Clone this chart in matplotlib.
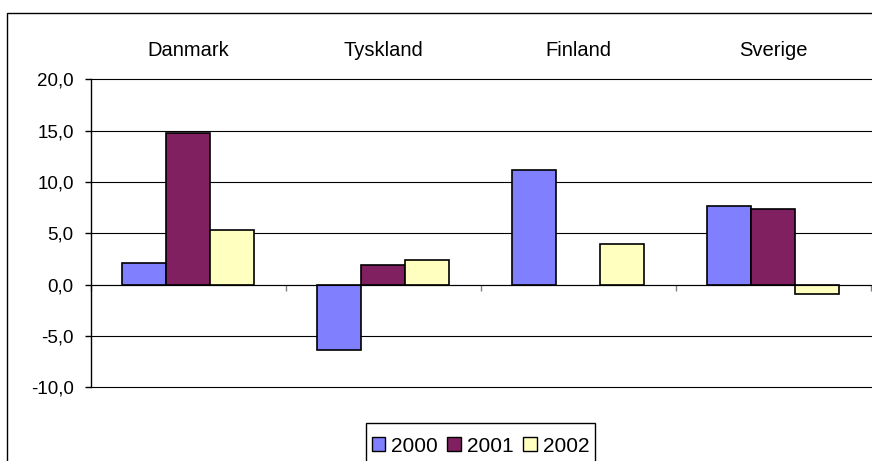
import numpy as np
import matplotlib
matplotlib.use("Agg")
import matplotlib.pyplot as plt
from matplotlib.patches import Rectangle

# data
countries = ["Danmark", "Tyskland", "Finland", "Sverige"]
years = ["2000", "2001", "2002"]
v2000 = [2.1, -6.4, 11.2, 7.7]
v2001 = [14.8, 1.9, np.nan, 7.4]
v2002 = [5.3, 2.4, 4.0, -0.9]
yticks = [-10, -5, 0, 5, 10, 15, 20]

colors = ["#8080FF", "#802060", "#FFFFC0"]

plt.rcParams['font.family'] = ['Liberation Sans', 'DejaVu Sans']

fig = plt.figure(figsize=(8.72, 4.61), dpi=100)
ax = fig.add_axes([91 / 872, 1 - 387.3 / 461, (870.7 - 91) / 872, 308 / 461])

x = np.arange(len(countries))
w = 0.2256
for i, (vals, col, lab) in enumerate(zip([v2000, v2001, v2002], colors, years)):
    ax.bar(x + (i - 1) * w, vals, w, color=col, edgecolor="black",
           linewidth=1.2, label=lab, zorder=3)

ax.set_xlim(-0.5, len(countries) - 0.5)
ax.set_ylim(-10, 20)
ax.set_yticks(yticks, [f"{v:.1f}".replace(".", ",") for v in yticks])
ax.yaxis.grid(True, color="black", linewidth=0.8)
for gl in ax.get_ygridlines():
    gl.set_clip_on(False)
ax.set_axisbelow(True)

# category axis crosses at zero
ax.spines['bottom'].set_position(('data', 0))
ax.spines['bottom'].set_zorder(4)
ax.spines['top'].set_visible(False)
ax.spines['right'].set_visible(False)
ax.spines['left'].set_linewidth(1.0)
ax.set_xticks(np.arange(len(countries) + 1) - 0.5, [""] * (len(countries) + 1))
ax.tick_params(axis='x', direction='out', length=4.5, color='gray', width=1)
ax.tick_params(axis='y', direction='out', length=4.5, width=1, pad=8,
               labelsize=13.5)

# category names on top
sec = ax.secondary_xaxis('top')
sec.set_xticks(x, countries)
sec.tick_params(length=0, pad=14, labelsize=14.5)
sec.spines['top'].set_visible(False)

# legend
leg = fig.legend(loc='upper center', bbox_to_anchor=(480.5 / 872, 1 - 423 / 461),
                 ncol=3, frameon=False, fontsize=15, handlelength=0.65,
                 handleheight=0.65, handletextpad=0.3, columnspacing=0.45,
                 borderpad=0.15)
for h in leg.legend_handles:
    h.set_linewidth(1.0)
fig.add_artist(Rectangle((366 / 872, -0.05), (595 - 366) / 872, 0.05 + 38 / 461,
                         transform=fig.transFigure, fill=False,
                         edgecolor="black", linewidth=1.0))

# outer chart border
fig.add_artist(Rectangle((7 / 872, -0.1), 1.2, 1.1 - 13 / 461,
                         transform=fig.transFigure, fill=False,
                         edgecolor="black", linewidth=1.0))

fig.savefig("out.png", dpi=100)
